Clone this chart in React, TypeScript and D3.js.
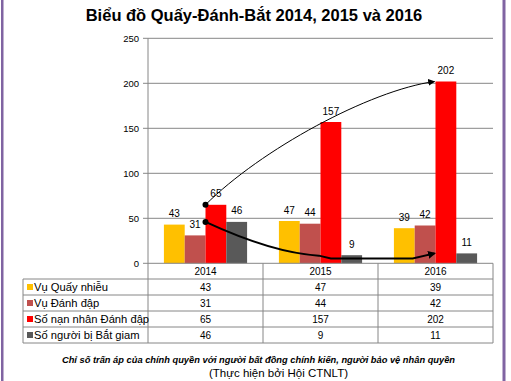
import React from "react";
import * as d3 from "d3";

const years = ["2014", "2015", "2016"];
const seriesNames = ["Vụ Quấy nhiễu", "Vụ Đánh đập", "Số nạn nhân Đánh đập", "Số người bị Bắt giam"];
const quayNhieu = [43, 47, 39];
const danhDap = [31, 44, 42];
const nanNhan = [65, 157, 202];
const batGiam = [46, 9, 11];
const yTicks = [0, 50, 100, 150, 200, 250];
const colors = ["#FFC000", "#C0504D", "#FF0000", "#595959"];
const title = "Biểu đồ Quấy-Đánh-Bắt 2014, 2015 và 2016";
const note1 = "Chỉ số trấn áp của chính quyền với người bất đồng chính kiến, người bảo vệ nhân quyền";
const note2 = "(Thực hiện bởi Hội CTNLT)";

const W = 511, H = 381;
const font = "'Liberation Sans', Arial, sans-serif";

export default function App() {
  const series = [quayNhieu, danhDap, nanNhan, batGiam];
  const x = d3.scaleBand<string>().domain(years).range([148, 493]).padding(0);
  const x1 = d3.scaleBand<number>().domain([0, 1, 2, 3]).range([0, x.bandwidth()]).paddingInner(0).paddingOuter(0.765);
  const y = d3.scaleLinear().domain([0, 250]).range([263.3, 38.3]);
  const tableLeft = 23;
  const rowTop = 279;
  const rowH = 16;
  const plotRight = x.range()[1];
  const plotLeft = x.range()[0];

  // annotation arrows anchored to data
  const redLeft2014 = x("2014")! + x1(2)!;
  const redLeft2016 = x("2016")! + x1(2)!;
  const redMid2015 = x("2015")! + x1(2)! + x1.bandwidth() / 2;
  const dr2016 = x("2016")! + x1(1)!;
  const p0 = [redLeft2014, y(nanNhan[0])];
  const p3 = [redLeft2016 - 1, y(nanNhan[2])];
  const upPath = `M${p0[0]},${p0[1]} C${p0[0] + 55},${p0[1] - 55} ${p3[0] - 65},${p3[1] + 9} ${p3[0]},${p3[1]}`;
  const q0 = [redLeft2014, y(batGiam[0])];
  const downPath = `M${q0[0]},${q0[1]} C${q0[0] + 35},${y(28)} ${q0[0] + 75},${y(11)} ${redMid2015 - 12},${y(8.5)} L${redMid2015},${y(5.3)} L${dr2016 - 2},${y(5.3)} L${redLeft2016 - 1},${y(batGiam[2])}`;

  return (
    <svg width={W} height={H} style={{ position: "absolute", left: 0, top: 0, background: "#fff" }}>
      <defs>
        <marker id="arr" viewBox="0 0 10 10" refX="9" refY="5" markerWidth="7" markerHeight="7" markerUnits="userSpaceOnUse" orient="auto">
          <path d="M0,0 L10,5 L0,10 z" fill="#000" />
        </marker>
        <marker id="arr2" viewBox="0 0 10 10" refX="8" refY="5" markerWidth="4" markerHeight="4" orient="auto">
          <path d="M0,0 L10,5 L0,10 z" fill="#000" />
        </marker>
      </defs>
      <rect x={0} y={0} width={W} height={H} fill="#fff" />
      <rect x={1} y={0} width={2.5} height={H} fill="#8064A2" />
      <rect x={502.5} y={0} width={3} height={H} fill="#8064A2" />
      <text x={254} y={21} textAnchor="middle" fontFamily={font} fontWeight="bold" fontSize={16.5} fill="#000">{title}</text>

      {/* gridlines */}
      {yTicks.map((t) => (
        <g key={t}>
          {t > 0 && <line x1={plotLeft} x2={plotRight} y1={y(t)} y2={y(t)} stroke="#868686" strokeWidth={1} />}
          <line x1={plotLeft - 5} x2={plotLeft} y1={y(t)} y2={y(t)} stroke="#868686" strokeWidth={1} />
          <text x={139} y={y(t) + 3.5} textAnchor="end" fontFamily={font} fontSize={9.5} fill="#000">{t}</text>
        </g>
      ))}

      {/* bars */}
      {years.map((yr, i) => (
        <g key={yr}>
          {series.map((s, j) => (
            <rect key={j} x={x(yr)! + x1(j)!} y={y(s[i])} width={x1.bandwidth()} height={y(0) - y(s[i])} fill={colors[j]} />
          ))}
        </g>
      ))}

      {/* arrows */}
      <path d={upPath} fill="none" stroke="#000" strokeWidth={1} markerEnd="url(#arr)" />
      <path d={downPath} fill="none" stroke="#000" strokeWidth={2} markerEnd="url(#arr2)" />
      <circle cx={p0[0]} cy={p0[1]} r={3} fill="#000" />
      <circle cx={q0[0]} cy={q0[1]} r={3} fill="#000" />

      {/* data labels */}
      {years.map((yr, i) => (
        <g key={yr}>
          {series.map((s, j) => (
            <text key={j} x={x(yr)! + x1(j)! + x1.bandwidth() / 2} y={y(s[i]) - 7.5} textAnchor="middle" fontFamily={font} fontSize={10} fill="#000">{s[i]}</text>
          ))}
        </g>
      ))}

      {/* axes / table */}
      <line x1={plotLeft} x2={plotLeft} y1={y(250)} y2={rowTop + rowH * 4} stroke="#868686" />
      <line x1={plotLeft} x2={plotRight} y1={y(0)} y2={y(0)} stroke="#868686" />
      {years.map((yr) => (
        <line key={yr} x1={x(yr)! + x.bandwidth()} x2={x(yr)! + x.bandwidth()} y1={y(0)} y2={rowTop + rowH * 4} stroke="#868686" />
      ))}
      <line x1={tableLeft} x2={tableLeft} y1={rowTop} y2={rowTop + rowH * 4} stroke="#868686" />
      {[0, 1, 2, 3, 4].map((r) => (
        <line key={r} x1={tableLeft} x2={plotRight} y1={rowTop + rowH * r} y2={rowTop + rowH * r} stroke="#868686" />
      ))}
      {years.map((yr) => (
        <text key={yr} x={x(yr)! + x.bandwidth() / 2} y={y(0) + 12} textAnchor="middle" fontFamily={font} fontSize={10} fill="#000">{yr}</text>
      ))}
      {seriesNames.map((nm, j) => (
        <g key={nm}>
          <rect x={27} y={rowTop + rowH * j + 5} width={6} height={6} fill={colors[j]} />
          <text x={34} y={rowTop + rowH * j + 12} fontFamily={font} fontSize={11.2} fill="#000">{nm}</text>
          {years.map((yr, i) => (
            <text key={yr} x={x(yr)! + x.bandwidth() / 2} y={rowTop + rowH * j + 12} textAnchor="middle" fontFamily={font} fontSize={10} fill="#000">{series[j][i]}</text>
          ))}
        </g>
      ))}

      <text x={258.5} y={363} textAnchor="middle" fontFamily={font} fontStyle="italic" fontWeight="bold" fontSize={9.3} fill="#000">{note1}</text>
      <text x={278.5} y={377} textAnchor="middle" fontFamily={font} fontSize={11.5} fill="#000">{note2}</text>
    </svg>
  );
}
